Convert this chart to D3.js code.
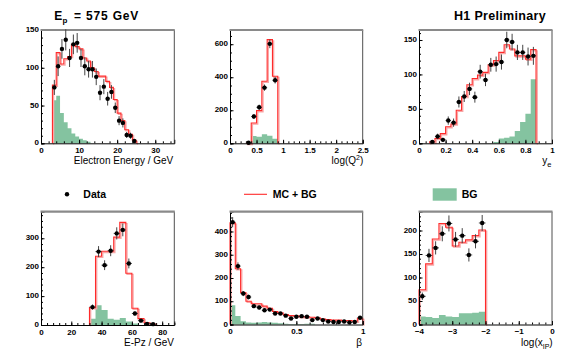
<!DOCTYPE html>
<html><head><meta charset="utf-8">
<script src="https://cdn.jsdelivr.net/npm/d3@7"></script>
<style>
body{margin:0;background:#fff;}
svg text{font-family:"Liberation Sans",Arial,Helvetica,sans-serif;fill:#000;}
</style></head><body>
<svg id="c" width="567" height="364"></svg>
<script>
// ---------- Electron energy ----------
const eeBins = [3.5,4.5,5.5,6.5,7.5,8.5,9.5,10.5,11.5,12.5,13.5,14.5,15.5,16.5,17.5,18.5,19.5,20.5,21.5,22.5,23.5,24.5];
const eeData = [74,102,125,137,113,131,133,113,102,98,98,88,67,75,59,68,47,30,27,11,10,3];
const eeErr  = [10,13,13,14,12,13,13,12,12,11,11,11,10,10,9,9,7,6,6,4,4,2];
const eeMC   = [77,120,105,112,115,131,128,125,113,109,100,95,89,89,82,74,58,40,30,18,12,4];
const eeBG   = [57,63,40,28,20,13,9,6,4,2,0,0,0,0,0,0,0,0,0,0,0,0];
const eeXTicks = [0,10,20,30];
const eeYTicks = [0,50,100,150];

// ---------- log(Q2) ----------
const q2Bins = [0.35,0.45,0.55,0.65,0.75,0.85];
const q2Data = [3,162,218,337,602,382];
const q2Err  = [3,14,16,19,26,20];
const q2MC   = [0,123,198,376,628,406];
const q2BG   = [0,44,40,55,45,28];
const q2XTicks = [0,0.5,1,1.5,2,2.5];
const q2YTicks = [0,200,400,600];

// ---------- y_e ----------
const yeBins = [0.10,0.14,0.18,0.22,0.26,0.30,0.34,0.38,0.42,0.46,0.50,0.54,0.58,0.62,0.66,0.70,0.74,0.78,0.82,0.86];
const yeData = [2,10,5,33,30,60,68,79,67,104,92,114,115,118,150,147,132,132,126,127];
const yeErr  = [2,4,3,6,6,8,8,9,8,10,9,10,11,11,12,12,11,11,13,13];
const yeMC   = [2,7,14,24,28,48,68,85,94,99,103,114,120,132,143,137,127,127,122,136];
const yeBG   = [0,0,0,0,0,0,0,0,0,0,0,0,2,7,8,10,18,31,43,93];
const yeXTicks = [0,0.2,0.4,0.6,0.8,1];
const yeYTicks = [0,50,100,150];

// ---------- E-Pz ----------
const epzBins = [34,38,42,46,50,54,58,62,66,70,74];
const epzData = [62,254,207,257,317,329,213,40,15,4,3];
const epzErr  = [9,19,17,19,21,22,17,7,5,3,2];
const epzMC   = [60,238,255,255,304,355,179,58,22,8,3];
const epzBG   = [22,68,52,22,18,24,12,5,0,0,0];
const epzXTicks = [0,20,40,60,80];
const epzYTicks = [0,100,200,300];

// ---------- beta ----------
const betaBins = [0.02,0.06,0.10,0.14,0.18,0.22,0.26,0.30,0.34,0.38,0.42,0.46,0.50,0.54,0.58,0.62,0.66,0.70,0.74,0.78,0.82,0.86,0.90,0.94,0.98];
const betaData = [440,251,133,118,79,73,61,64,47,47,38,26,33,36,33,19,26,19,13,11,11,13,9,11,29];
const betaErr  = [22,16,11,10,8,8,7,7,6,6,6,5,5,5,5,4,5,4,3,3,3,3,3,3,5];
const betaMC   = [437,240,137,100,89,89,79,70,56,50,43,39,37,34,33,31,29,23,21,19,19,17,17,14,27];
const betaBG   = [83,37,14,9,7,9,11,9,7,5,3,2,2,2,3,3,0,0,0,0,0,0,0,0,0];
const betaXTicks = [0,0.5,1];
const betaYTicks = [0,100,200,300,400];

// ---------- log(x_IP) ----------
const xpBins = [-3.9,-3.7,-3.5,-3.3,-3.1,-2.9,-2.7,-2.5,-2.3,-2.1];
const xpData = [60,147,163,193,215,181,189,148,177,216];
const xpErr  = [8,14,14,16,17,16,16,14,15,17];
const xpMC   = [74,129,182,215,207,167,175,180,189,201];
const xpBG   = [17,16,14,20,17,16,24,24,25,27];
const xpXTicks = [-4,-3,-2,-1,0];
const xpYTicks = [0,50,100,150,200];

const RED = "#ff2a2a", PINK = "#f8a8a8", GREEN = "#84c3a0";

const svg = d3.select("#c");

const panels = [
  {x0:41, x1:174.3, y0:30, y1:143.3, xd:[0,35], yd:[0,150], bw:1, c:eeBins, d:eeData, e:eeErr, mc:eeMC, bg:eeBG, xt:eeXTicks, yt:eeYTicks, xm:2, ym:10},
  {x0:230, x1:362.7, y0:30, y1:143.3, xd:[0,2.5], yd:[0,686], bw:0.1, c:q2Bins, d:q2Data, e:q2Err, mc:q2MC, bg:q2BG, xt:q2XTicks, yt:q2YTicks, xm:0.1, ym:50},
  {x0:419, x1:552, y0:30, y1:143.3, xd:[0,1], yd:[0,164.5], bw:0.04, c:yeBins, d:yeData, e:yeErr, mc:yeMC, bg:yeBG, xt:yeXTicks, yt:yeYTicks, xm:0.05, ym:10},
  {x0:41, x1:174.3, y0:211.7, y1:325, xd:[0,88], yd:[0,392], bw:4, c:epzBins, d:epzData, e:epzErr, mc:epzMC, bg:epzBG, xt:epzXTicks, yt:epzYTicks, xm:4, ym:20},
  {x0:230, x1:362.7, y0:211.7, y1:324.5, xd:[0,1], yd:[0,485], bw:0.04, c:betaBins, d:betaData, e:betaErr, mc:betaMC, bg:betaBG, xt:betaXTicks, yt:betaYTicks, xm:0.1, ym:20},
  {x0:419, x1:552, y0:211.7, y1:324.5, xd:[-4,0], yd:[0,240], bw:0.2, c:xpBins, d:xpData, e:xpErr, mc:xpMC, bg:xpBG, xt:xpXTicks, yt:xpYTicks, xm:0.2, ym:10}
];

function stepPoints(p, vals){
  const pts = [[p.c[0]-p.bw/2, 0]];
  p.c.forEach((c,i)=>{ pts.push([c-p.bw/2, vals[i]]); pts.push([c+p.bw/2, vals[i]]); });
  pts.push([p.c[p.c.length-1]+p.bw/2, 0]);
  return pts;
}

panels.forEach(p=>{
  const x = d3.scaleLinear().domain(p.xd).range([p.x0, p.x1]);
  const y = d3.scaleLinear().domain(p.yd).range([p.y1, p.y0]);
  const g = svg.append("g");

  // BG area
  const bgPts = stepPoints(p, p.bg);
  g.append("path").datum(bgPts)
    .attr("d", d3.area().x(d=>x(d[0])).y0(y(0)).y1(d=>y(d[1])))
    .attr("fill", GREEN);

  // MC + BG line
  const mcPts = stepPoints(p, p.mc);
  const line = d3.line().x(d=>x(d[0])).y(d=>y(d[1]));
  g.append("path").datum(mcPts).attr("d", line)
    .attr("fill","none").attr("stroke",PINK).attr("stroke-width",1.3)
    .attr("transform","translate(1.2,1.2)");
  g.append("path").datum(mcPts).attr("d", line)
    .attr("fill","none").attr("stroke",RED).attr("stroke-width",1.1);

  // axes
  const xMinor = d3.range(p.xd[0], p.xd[1]+1e-9, p.xm);
  const yMinor = d3.range(p.yd[0], p.yd[1]+1e-9, p.ym);
  const fmt = d=> d3.format("~g")(d);
  g.append("g").attr("transform",`translate(0,${p.y1})`)
    .call(d3.axisBottom(x).tickValues(xMinor).tickSize(-2).tickFormat(""))
    .call(a=>a.select(".domain").remove());
  g.append("g").attr("transform",`translate(${p.x0},0)`)
    .call(d3.axisLeft(y).tickValues(yMinor).tickSize(-2).tickFormat(""))
    .call(a=>a.select(".domain").remove());
  const xa = g.append("g").attr("transform",`translate(0,${p.y1})`)
    .call(d3.axisBottom(x).tickValues(p.xt).tickSize(-3.5).tickPadding(4.3).tickFormat(fmt));
  const ya = g.append("g").attr("transform",`translate(${p.x0},0)`)
    .call(d3.axisLeft(y).tickValues(p.yt).tickSize(-3.5).tickPadding(2).tickFormat(fmt));
  [xa,ya].forEach(a=>{
    a.selectAll("text").attr("font-size","8px").attr("font-weight","bold")
      .attr("font-family",'"Liberation Sans",Arial,sans-serif');
    a.select(".domain").attr("stroke","#000");
  });
  ya.selectAll("text").attr("dy","0.2em");
  g.selectAll(".tick line").attr("stroke","#000");
  // frame: right edge and grey top
  g.append("line").attr("x1",p.x1).attr("x2",p.x1).attr("y1",p.y0).attr("y2",p.y1)
    .attr("stroke","#222").attr("stroke-width",0.8);
  g.append("line").attr("x1",p.x0-0.5).attr("x2",p.x1+0.5).attr("y1",p.y0).attr("y2",p.y0)
    .attr("stroke","#8a8a8a").attr("stroke-width",2.2);

  // data points
  const dg = g.append("g");
  p.c.forEach((c,i)=>{
    dg.append("line").attr("x1",x(c)).attr("x2",x(c))
      .attr("y1",y(Math.max(0,p.d[i]-p.e[i]))).attr("y2",y(p.d[i]+p.e[i]))
      .attr("stroke","#444").attr("stroke-width",1);
    dg.append("line").attr("x1",x(c-p.bw/2)).attr("x2",x(c+p.bw/2))
      .attr("y1",y(p.d[i])).attr("y2",y(p.d[i]))
      .attr("stroke","#444").attr("stroke-width",1);
    dg.append("circle").attr("cx",x(c)).attr("cy",y(p.d[i])).attr("r",2.2).attr("fill","#000");
  });
});

// titles
svg.append("text").attr("x",54.3).attr("y",20).attr("font-size","12px").attr("font-weight","bold").text("E");
svg.append("text").attr("x",62.5).attr("y",23).attr("font-size","8px").attr("font-weight","bold").text("p");
svg.append("text").attr("x",74).attr("y",20).attr("font-size","12px").attr("font-weight","bold")
  .attr("textLength",64.3).attr("lengthAdjust","spacing").text("= 575 GeV");
svg.append("text").attr("x",454).attr("y",20).attr("font-size","12.5px").attr("font-weight","bold")
  .attr("textLength",91.7).attr("lengthAdjust","spacing").text("H1 Preliminary");

// axis titles
function axTitle(xr, yb, parts){
  const t = svg.append("text").attr("x",xr).attr("y",yb).attr("text-anchor","end").attr("font-size","10px");
  parts.forEach(pt=>{
    const s = t.append("tspan").text(pt.t);
    if(pt.dy) s.attr("dy",pt.dy);
    if(pt.fs) s.attr("font-size",pt.fs);
  });
}
axTitle(173.3,164,[{t:"Electron Energy / GeV"}]);
axTitle(363.3,164,[{t:"log(Q"},{t:"2",dy:-4,fs:"7px"},{t:")",dy:4}]);
axTitle(551.5,164,[{t:"y"},{t:"e",dy:3,fs:"7.5px"}]);
axTitle(174,346,[{t:"E-Pz / GeV"}]);
axTitle(362,345.5,[{t:"β"}]);
axTitle(552.7,345.5,[{t:"log(x"},{t:"IP",dy:3,fs:"7px"},{t:")",dy:-3}]);

// legend
svg.append("circle").attr("cx",67).attr("cy",194.3).attr("r",2.2).attr("fill","#000");
svg.append("text").attr("x",83.3).attr("y",198.3).attr("font-size","10.5px").attr("font-weight","bold").text("Data");
svg.append("line").attr("x1",244).attr("x2",267).attr("y1",194.3).attr("y2",194.3).attr("stroke",RED).attr("stroke-width",1.1);
svg.append("text").attr("x",272.7).attr("y",198.3).attr("font-size","10.5px").attr("font-weight","bold").text("MC + BG");
svg.append("rect").attr("x",432.7).attr("y",188.3).attr("width",24).attr("height",12.4).attr("fill",GREEN);
svg.append("text").attr("x",461.7).attr("y",198.3).attr("font-size","10.5px").attr("font-weight","bold").text("BG");
</script>
</body></html>
